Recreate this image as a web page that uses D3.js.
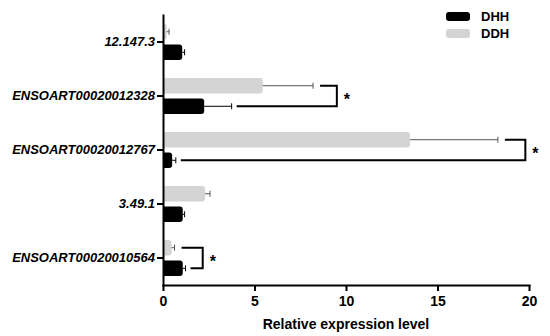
<!DOCTYPE html>
<html>
<head>
<meta charset="utf-8">
<script src="https://cdn.jsdelivr.net/npm/d3@7"></script>
<style>
  body { margin: 0; background: #fff; }
  text { font-family: "Liberation Sans", Arial, sans-serif; }
</style>
</head>
<body>
<div id="chart"></div>
<script>
// values
const genes = ["12.147.3", "ENSOART00020012328", "ENSOART00020012767", "3.49.1", "ENSOART00020010564"];
const groups = ["DDH", "DHH"];          // DDH drawn above DHH in each row
const ddhMean = [0.2, 5.45, 13.5, 2.3, 0.47];
const ddhErr  = [0.13, 2.75, 4.8, 0.27, 0.16];
const dhhMean = [1.05, 2.25, 0.5, 1.08, 1.08];
const dhhErr  = [0.13, 1.5, 0.2, 0.1, 0.15];
const xTicks  = [0, 5, 10, 15, 20];
// significance brackets: row and where the vertical arm sits (axis units)
const sigGenes = ["ENSOART00020012328", "ENSOART00020012767", "ENSOART00020010564"];
const sigX     = [9.5, 19.8, 2.17];
const legendKeys = ["DHH", "DDH"];

const colors = { DHH: "#000", DDH: "#d4d4d4" };
const errColors = { DHH: "#000", DDH: "#555" };

const width = 550, height = 336;
const margin = { top: 15, right: 21, bottom: 51, left: 163 };

const svg = d3.select("#chart").append("svg")
  .attr("width", width)
  .attr("height", height);

const x = d3.scaleLinear()
  .domain([0, 20])
  .range([margin.left, width - margin.right]);

const y = d3.scaleBand()
  .domain(genes)
  .range([margin.top, height - margin.bottom]);

const inner = d3.scaleBand()
  .domain(groups)
  .range([9, 45])
  .paddingInner(0.25);

// flatten rows into bar records
const bars = [];
genes.forEach(function(g, i) {
  bars.push({ gene: g, group: "DDH", mean: ddhMean[i], err: ddhErr[i] });
  bars.push({ gene: g, group: "DHH", mean: dhhMean[i], err: dhhErr[i] });
});

function barMid(d) { return y(d.gene) + inner(d.group) + inner.bandwidth() / 2; }

// bar with square left end and rounded right corners
function barPath(d) {
  const x0 = x(0), x1 = x(d.mean);
  const y0 = y(d.gene) + inner(d.group), h = inner.bandwidth();
  const r = Math.min(3, (x1 - x0) / 2);
  const p = d3.path();
  p.moveTo(x0, y0);
  p.lineTo(x1 - r, y0);
  p.arcTo(x1, y0, x1, y0 + r, r);
  p.lineTo(x1, y0 + h - r);
  p.arcTo(x1, y0 + h, x1 - r, y0 + h, r);
  p.lineTo(x0, y0 + h);
  p.closePath();
  return p.toString();
}

svg.append("g").selectAll("path")
  .data(bars)
  .join("path")
    .attr("d", barPath)
    .attr("fill", function(d) { return colors[d.group]; });

// error bars (right side only)
const eb = svg.append("g").selectAll("g")
  .data(bars)
  .join("g")
    .attr("stroke", function(d) { return errColors[d.group]; })
    .attr("stroke-width", 1);

eb.append("line")
  .attr("x1", function(d) { return x(d.mean); })
  .attr("x2", function(d) { return x(d.mean + d.err); })
  .attr("y1", barMid)
  .attr("y2", barMid);

eb.append("line")
  .attr("x1", function(d) { return x(d.mean + d.err); })
  .attr("x2", function(d) { return x(d.mean + d.err); })
  .attr("y1", function(d) { return barMid(d) - 3; })
  .attr("y2", function(d) { return barMid(d) + 3; });

// significance brackets
const sig = sigGenes.map(function(g, k) {
  const i = genes.indexOf(g);
  return {
    gene: g,
    xv: sigX[k],
    topStart: x(ddhMean[i] + ddhErr[i]) + 7,
    botStart: x(dhhMean[i] + dhhErr[i]) + 5
  };
});

const br = svg.append("g").selectAll("g")
  .data(sig)
  .join("g");

br.append("path")
  .attr("fill", "none")
  .attr("stroke", "#000")
  .attr("stroke-width", 2)
  .attr("d", function(d) {
    const yt = y(d.gene) + inner("DDH") + inner.bandwidth() / 2;
    const yb = y(d.gene) + inner("DHH") + inner.bandwidth() / 2;
    return "M" + d.topStart + "," + yt + "H" + x(d.xv) + "V" + yb + "H" + d.botStart;
  });

br.append("text")
  .attr("x", function(d) { return x(d.xv) + 7; })
  .attr("y", function(d) { return y(d.gene) + y.bandwidth() / 2 + 9; })
  .attr("font-size", 16)
  .attr("font-weight", "bold")
  .text("*");

// axes
const yAxis = svg.append("g")
  .attr("transform", "translate(" + margin.left + ",0)")
  .call(d3.axisLeft(y).tickSize(6).tickSizeOuter(0).tickPadding(2));

yAxis.selectAll("text")
  .attr("font-size", 13)
  .attr("font-weight", "bold")
  .attr("font-style", "italic")
  .attr("fill", "#000");

const xAxis = svg.append("g")
  .attr("transform", "translate(0," + (height - margin.bottom) + ")")
  .call(d3.axisBottom(x).tickValues(xTicks).tickSize(6).tickSizeOuter(0).tickPadding(5));

xAxis.selectAll("text")
  .attr("font-size", 14)
  .attr("font-weight", "bold")
  .attr("fill", "#000");

svg.selectAll(".domain, .tick line")
  .attr("stroke", "#000")
  .attr("stroke-width", 2);
svg.selectAll(".domain").attr("stroke-linecap", "square");

svg.append("text")
  .attr("x", (x(0) + x(20)) / 2)
  .attr("y", 329)
  .attr("text-anchor", "middle")
  .attr("font-size", 14)
  .attr("font-weight", "bold")
  .text("Relative expression level");

// legend
const legend = svg.append("g").selectAll("g")
  .data(legendKeys)
  .join("g")
    .attr("transform", function(d, i) { return "translate(446," + (12 + i * 17) + ")"; });

legend.append("rect")
  .attr("width", 24)
  .attr("height", 9)
  .attr("rx", 3)
  .attr("fill", function(d) { return colors[d]; });

legend.append("text")
  .attr("x", 35)
  .attr("y", 9)
  .attr("font-size", 13)
  .attr("font-weight", "bold")
  .text(function(d) { return d; });
</script>
</body>
</html>
